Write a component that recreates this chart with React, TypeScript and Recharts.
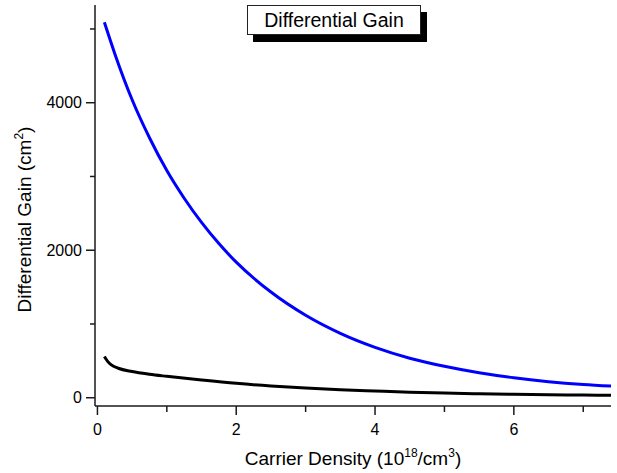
import { LineChart, Line, XAxis, YAxis, Label, Legend } from 'recharts';

const FONT = '"Liberation Sans", Arial, sans-serif';
const FRAME = '#1a1a1a';

// blue curve
const densityBlue = [0.1, 0.25, 0.5, 0.75, 1, 1.25, 1.5, 1.75, 2, 2.5, 3, 3.5, 4, 4.5, 5, 5.5, 6, 6.5, 7, 7.4];
const gainBlue = [5090, 4665, 4040, 3525, 3080, 2705, 2377, 2090, 1838, 1433, 1118, 873, 683, 536, 426, 338, 270, 218, 180, 158];

// black curve
const densityBlack = [0.1, 0.15, 0.2, 0.3, 0.5, 0.75, 1, 1.5, 2, 2.5, 3, 3.5, 4, 4.5, 5, 5.5, 6, 6.5, 7, 7.4];
const gainBlack = [560, 490, 445, 400, 355, 318, 290, 240, 195, 160, 133, 110, 92, 75, 63, 54, 46, 40, 36, 33];

const xTicks = [0, 1, 2, 3, 4, 5, 6, 7];
const yTicks = [0, 1000, 2000, 3000, 4000, 5000];

const blueData = densityBlue.map((x, i) => ({ x, y: gainBlue[i] }));
const blackData = densityBlack.map((x, i) => ({ x, y: gainBlack[i] }));

const XTick = (props: any) => {
  const { x, y, payload } = props;
  const major = payload.value % 2 === 0;
  return (
    <g>
      <line x1={x} x2={x} y1={y} y2={y + (major ? 9 : 6)} stroke={FRAME} strokeWidth={1.5} />
      {major && (
        <text x={x} y={y + 29} textAnchor="middle" fontSize={16} fontFamily={FONT} fill="#000">
          {payload.value}
        </text>
      )}
    </g>
  );
};

const YTick = (props: any) => {
  const { x, y, payload } = props;
  const major = payload.value % 2000 === 0;
  return (
    <g>
      <line x1={x - (major ? 9 : 5)} x2={x} y1={y} y2={y} stroke={FRAME} strokeWidth={1.5} />
      {major && (
        <text x={x - 13} y={y + 5.5} textAnchor="end" fontSize={16} fontFamily={FONT} fill="#000">
          {payload.value}
        </text>
      )}
    </g>
  );
};

const XTitle = ({ viewBox }: any) => {
  const cx = viewBox.x + viewBox.width / 2;
  return (
    <text x={cx} y={465} textAnchor="middle" fontSize={19} fontFamily={FONT} fill="#000">
      <tspan>Carrier Density (10</tspan>
      <tspan dy={-8} fontSize={12}>18</tspan>
      <tspan dy={8}>/cm</tspan>
      <tspan dy={-8} fontSize={12}>3</tspan>
      <tspan dy={8}>)</tspan>
    </text>
  );
};

const YTitle = ({ viewBox }: any) => {
  const cx = 31;
  const cy = viewBox.y + viewBox.height / 2 + 14;
  return (
    <text
      x={cx}
      y={cy}
      transform={`rotate(-90, ${cx}, ${cy})`}
      textAnchor="middle"
      fontSize={19}
      fontFamily={FONT}
      fill="#000"
    >
      <tspan>Differential Gain (cm</tspan>
      <tspan dy={-8} fontSize={12}>2</tspan>
      <tspan dy={8}>)</tspan>
    </text>
  );
};

const TitleBox = () => (
  <div
    style={{
      width: 174,
      height: 30,
      boxSizing: 'border-box',
      border: '1px solid #222',
      background: '#fff',
      boxShadow: '6px 7px 0 #000',
      display: 'flex',
      alignItems: 'center',
      justifyContent: 'center',
      fontFamily: FONT,
      fontSize: 19.5,
      color: '#000',
    }}
  >
    Differential Gain
  </div>
);

export default function App() {
  return (
    <div style={{ position: 'absolute', left: 0, top: 0, width: 617, height: 473, background: '#fff' }}>
      <LineChart width={617} height={473} margin={{ top: 5, right: 6, bottom: 0, left: 0 }}>
        <XAxis
          type="number"
          dataKey="x"
          domain={[-0.035, 7.4]}
          allowDataOverflow
          ticks={xTicks}
          interval={0}
          tickSize={0}
          tickMargin={0}
          tickLine={false}
          tick={<XTick />}
          height={67}
          axisLine={{ stroke: FRAME, strokeWidth: 1.5 }}
        >
          <Label content={<XTitle />} />
        </XAxis>
        <XAxis
          xAxisId="top"
          orientation="top"
          type="number"
          domain={[-0.035, 7.4]}
          height={0}
          tick={false}
          tickLine={false}
          axisLine={{ stroke: FRAME, strokeWidth: 1.5 }}
        />
        <YAxis
          type="number"
          domain={[-112, 5325]}
          allowDataOverflow
          ticks={yTicks}
          interval={0}
          tickSize={0}
          tickMargin={0}
          tickLine={false}
          tick={<YTick />}
          width={95}
          axisLine={{ stroke: FRAME, strokeWidth: 1.5 }}
        >
          <Label content={<YTitle />} />
        </YAxis>
        <YAxis
          yAxisId="right"
          orientation="right"
          type="number"
          domain={[-112, 5325]}
          width={0}
          tick={false}
          tickLine={false}
          axisLine={{ stroke: FRAME, strokeWidth: 1.5 }}
        />
        <Legend
          layout="horizontal"
          verticalAlign="middle"
          align="center"
          content={<TitleBox />}
          wrapperStyle={{ top: 5, left: 247, width: 174, height: 30 }}
        />
        <Line
          data={blueData}
          dataKey="y"
          type="monotone"
          stroke="#0000ff"
          strokeWidth={3}
          dot={false}
          isAnimationActive={false}
        />
        <Line
          data={blackData}
          dataKey="y"
          type="monotone"
          stroke="#000"
          strokeWidth={3}
          dot={false}
          isAnimationActive={false}
        />
      </LineChart>
    </div>
  );
}
